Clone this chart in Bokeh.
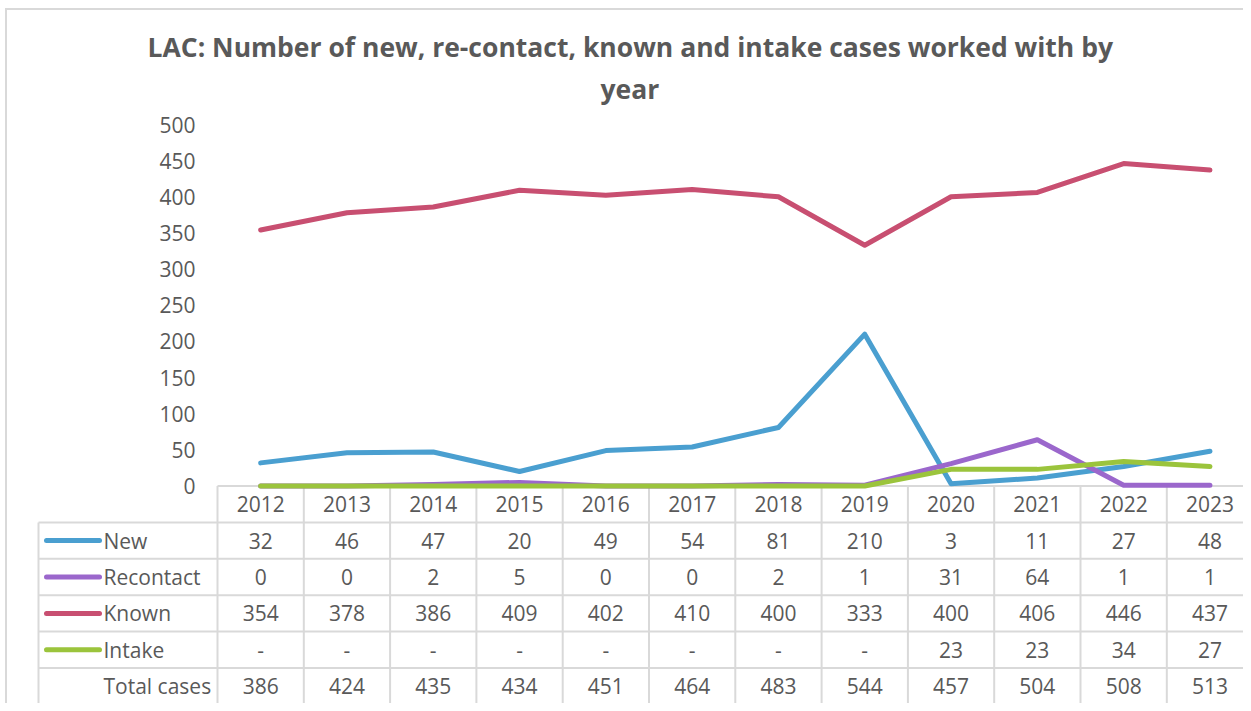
from bokeh.plotting import figure
from bokeh.models import Range1d, LinearAxis, FixedTicker, Title
from bokeh.core.properties import value
from bokeh.embed import file_html
from bokeh.resources import INLINE

# ---------------- data ----------------
years = ["2012", "2013", "2014", "2015", "2016", "2017", "2018", "2019", "2020", "2021", "2022", "2023"]
new_cases = [32, 46, 47, 20, 49, 54, 81, 210, 3, 11, 27, 48]
recontact_cases = [0, 0, 2, 5, 0, 0, 2, 1, 31, 64, 1, 1]
known_cases = [354, 378, 386, 409, 402, 410, 400, 333, 400, 406, 446, 437]
intake_cases = [0, 0, 0, 0, 0, 0, 0, 0, 23, 23, 34, 27]
total_cases = [386, 424, 435, 434, 451, 464, 483, 544, 457, 504, 508, 513]
series_names = ["New", "Recontact", "Known", "Intake"]
series_colors = ["#4A9FD0", "#9B67CC", "#C84F71", "#9BC43C"]
total_label = "Total cases"
y_ticks = [0, 50, 100, 150, 200, 250, 300, 350, 400, 450, 500]
title_lines = ["LAC: Number of new, re-contact, known and intake cases worked with by", "year"]

# ---------------- layout constants (pixels) ----------------
W, H = 1243, 703
LEFT_BORDER = 34
TOP_BORDER = 108
CELL_W = 86.3
LEG_W = 179
PX_PER_UNIT = 0.723
ZERO_Y = 485.5             # pixel row of value 0
ROW_H = 36.4
FONT = "Open Sans"
TXT = "#595959"
GRID = "#D9D9D9"

frame_w = W - LEFT_BORDER
x_start = -0.5 - (LEG_W + 4) / CELL_W
x_end = x_start + frame_w / CELL_W
y_end = (ZERO_Y - TOP_BORDER) / PX_PER_UNIT
y_start = -(H - ZERO_Y) / PX_PER_UNIT


def dx(px):
    return px / CELL_W


def dy(px):
    return px / PX_PER_UNIT


p = figure(width=W, height=H, output_backend="svg", toolbar_location=None,
           x_range=Range1d(x_start, x_end), y_range=Range1d(y_start, y_end),
           x_axis_type=None, y_axis_type=None,
           min_border_left=LEFT_BORDER, min_border_right=0,
           min_border_top=TOP_BORDER, min_border_bottom=0)
p.title = None
p.outline_line_color = None
p.grid.visible = False
p.background_fill_color = None
p.border_fill_color = None
p.styles = {
    "background-color": "white",
    "background-image": "linear-gradient(#D9D9D9, #D9D9D9), linear-gradient(#D9D9D9, #D9D9D9)",
    "background-size": "2px 100%, 100% 2px",
    "background-position": "5px 8px, 5px 8px",
    "background-repeat": "no-repeat",
}

# titles (second line added first so it sits nearest the plot); offsets from frame left
title_offsets = [113, 566]
for line, off in reversed(list(zip(title_lines, title_offsets))):
    p.add_layout(Title(text=line, align="left", offset=off,
                       text_font=FONT, text_font_size="26.5px",
                       text_font_style="bold", text_color=TXT, standoff=4), "above")

# y axis drawn at the boundary between legend column and first year column
yaxis = LinearAxis(fixed_location=-0.5, ticker=FixedTicker(ticks=y_ticks),
                   axis_line_color=None, major_tick_line_color=None, minor_tick_line_color=None,
                   major_tick_in=0, major_tick_out=0, major_label_standoff=22,
                   major_label_text_font=FONT, major_label_text_font_size="21px",
                   major_label_text_color=TXT)
p.add_layout(yaxis, "left")

# ---------------- table grid ----------------
n = len(years)
xs_idx = list(range(n))
x_left = -0.5 - LEG_W / CELL_W
row_bounds = [-dy(k * ROW_H) for k in range(7)]
hx0, hx1, hy = [], [], []
for k, yb in enumerate(row_bounds):
    hx0.append(-0.5 if k == 0 else x_left)
    hx1.append(n - 0.5)
    hy.append(yb)
p.segment(x0=hx0, y0=hy, x1=hx1, y1=hy, line_color=GRID, line_width=2)
vx = [k - 0.5 for k in range(n + 1)]
p.segment(x0=vx, y0=[row_bounds[0]] * len(vx), x1=vx, y1=[row_bounds[6]] * len(vx),
          line_color=GRID, line_width=2)
p.segment(x0=[x_left], y0=[row_bounds[1]], x1=[x_left], y1=[row_bounds[6]],
          line_color=GRID, line_width=2)

# ---------------- lines ----------------
series_vals = [new_cases, recontact_cases, known_cases, intake_cases]
for vals, col in zip(series_vals, series_colors):
    p.line(xs_idx, vals, line_color=col, line_width=5, line_join="round", line_cap="round")

# ---------------- table texts ----------------
text_kw = dict(text_font=value(FONT), text_font_size="21px", text_color=TXT, text_baseline="middle")
row_mid = [(row_bounds[k] + row_bounds[k + 1]) / 2 for k in range(6)]
p.text(x=xs_idx, y=[row_mid[0]] * n, text=years, text_align="center", **text_kw)

row_texts = [
    [str(v) for v in new_cases],
    [str(v) for v in recontact_cases],
    [str(v) for v in known_cases],
    ["-" if v == 0 else str(v) for v in intake_cases],
    [str(v) for v in total_cases],
]
for r, texts in enumerate(row_texts):
    p.text(x=xs_idx, y=[row_mid[r + 1]] * n, text=texts, text_align="center", **text_kw)

labels = series_names + [total_label]
p.text(x=[x_left + dx(65)] * len(labels), y=row_mid[1:6], text=labels, text_align="left", **text_kw)
p.segment(x0=[x_left + dx(8)] * 4, y0=row_mid[1:5], x1=[x_left + dx(61)] * 4, y1=row_mid[1:5],
          line_color=series_colors, line_width=5, line_cap="round")

open("out.html", "w").write(file_html(p, INLINE))
